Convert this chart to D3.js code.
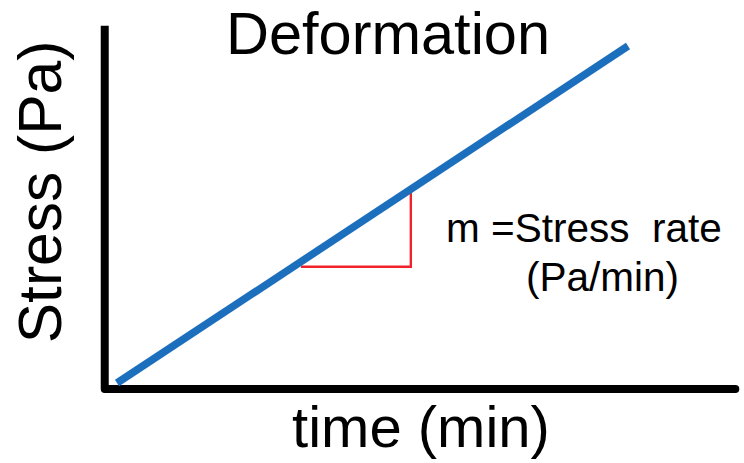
<!DOCTYPE html>
<html>
<head>
<meta charset="utf-8">
<script src="https://cdn.jsdelivr.net/npm/d3@7"></script>
<style>
  html, body { margin: 0; padding: 0; background: #fff; }
  svg { display: block; }
  text { font-family: "Liberation Sans", Arial, Helvetica, sans-serif; fill: #000; }
</style>
</head>
<body>
<svg id="chart" width="744" height="463"></svg>
<script>
// Stress grows linearly with time: one straight loading line
const lineTime = [0, 10];
const lineStress = [0, 10];

// Axis extent in data units (origin sits a little below/left of the line start)
const axisTime = [-0.24, 12.1];
const axisStress = [-0.18, 10.6];

// Slope triangle under the line
const triTime = [3.6, 5.75];
const triStress = [3.45, 5.65];

const titleText = "Deformation";
const xLabel = "time (min)";
const yLabel = "Stress (Pa)";
const slopeLabel = ["m =Stress\u00a0\u00a0rate", "(Pa/min)"];

const svg = d3.select("#chart");

const x = d3.scaleLinear().domain([0, 10]).range([117, 628]);
const y = d3.scaleLinear().domain([0, 10]).range([383, 46]);

// Axes: vertical and horizontal black bars joined at the origin
svg.append("path")
  .attr("d", d3.line()([
    [x(axisTime[0]), y(axisStress[1])],
    [x(axisTime[0]), y(axisStress[0])],
    [x(axisTime[1]), y(axisStress[0])]
  ]))
  .attr("fill", "none")
  .attr("stroke", "#000")
  .attr("stroke-width", 8)
  .attr("stroke-linejoin", "round");

// Right end of the time axis is rounded
svg.append("circle")
  .attr("cx", x(axisTime[1]))
  .attr("cy", y(axisStress[0]))
  .attr("r", 4)
  .attr("fill", "#000");

// Slope triangle
svg.append("path")
  .attr("d", d3.line()([
    [x(triTime[0]), y(triStress[0])],
    [x(triTime[1]), y(triStress[0])],
    [x(triTime[1]), y(triStress[1])]
  ]))
  .attr("fill", "none")
  .attr("stroke", "#f0232a")
  .attr("stroke-width", 2.4);

// Stress line
svg.append("path")
  .datum(lineTime.map((t, i) => [t, lineStress[i]]))
  .attr("d", d3.line().x(d => x(d[0])).y(d => y(d[1])))
  .attr("fill", "none")
  .attr("stroke", "#1c6fbd")
  .attr("stroke-width", 7.5)
  .attr("stroke-linecap", "butt");

// Title
svg.append("text")
  .attr("x", 388).attr("y", 54)
  .attr("text-anchor", "middle")
  .attr("font-size", 59.5)
  .text(titleText);

// Axis labels
svg.append("text")
  .attr("x", 421).attr("y", 447)
  .attr("text-anchor", "middle")
  .attr("font-size", 58)
  .text(xLabel);

svg.append("text")
  .attr("transform", "translate(61,192) rotate(-90)")
  .attr("text-anchor", "middle")
  .attr("font-size", 60.5)
  .text(yLabel);

// Slope annotation
svg.append("text")
  .attr("x", 446).attr("y", 242)
  .attr("font-size", 40.5)
  .text(slopeLabel[0]);

svg.append("text")
  .attr("x", 526).attr("y", 291)
  .attr("font-size", 40.5)
  .text(slopeLabel[1]);
</script>
</body>
</html>
